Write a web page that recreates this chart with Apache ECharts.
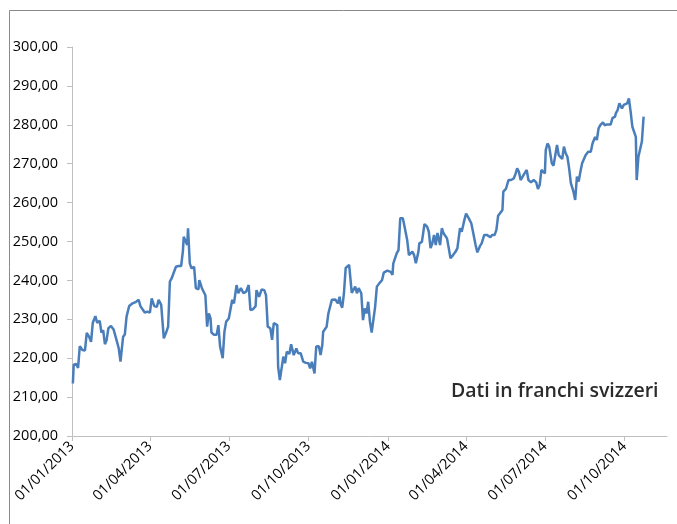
<!DOCTYPE html>
<html>
<head>
<meta charset="utf-8">
<script src="https://cdn.jsdelivr.net/npm/echarts@6/dist/echarts.min.js"></script>
<style>
  html, body { margin: 0; padding: 0; background: #fff; }
  #chart { width: 677px; height: 524px; }
</style>
</head>
<body>
<div id="chart"></div>
<script>
// days counted from 01/01/2013
const days = [
  1, 2, 5, 7, 9, 12, 15, 17, 20, 22, 24, 27, 29, 32, 34, 36, 38, 40, 42, 45,
  48, 50, 52, 54, 56, 59, 61, 63, 66, 70, 74, 77, 79, 82, 84, 87, 90, 92, 95, 98,
  100, 103, 105, 106, 109, 111, 113, 115, 117, 120, 123, 126, 128, 129, 131, 133, 134, 136, 138, 141,
  143, 146, 147, 150, 152, 154, 156, 158, 160, 161, 164, 167, 169, 171, 174, 176, 178, 181, 183, 185,
  187, 190, 192, 195, 198, 201, 204, 206, 209, 212, 213, 216, 219, 222, 224, 226, 229, 231, 233, 237,
  238, 240, 242, 244, 246, 248, 251, 253, 256, 259, 261, 264, 267, 270, 273, 275, 277, 280, 282, 285,
  287, 289, 290, 294, 296, 300, 304, 307, 309, 310, 312, 314, 316, 320, 323, 325, 327, 329, 331, 334,
  336, 338, 340, 342, 344, 346, 348, 350, 352, 355, 358, 360, 364, 368, 370, 371, 375, 377, 379, 382,
  384, 387, 389, 391, 393, 395, 397, 400, 401, 404, 407, 410, 412, 414, 416, 418, 420, 422, 423, 425,
  427, 429, 433, 435, 437, 440, 443, 445, 448, 450, 453, 455, 458, 461, 463, 466, 468, 471, 473, 476,
  479, 481, 483, 485, 488, 490, 492, 494, 497, 498, 501, 504, 507, 510, 512, 514, 516, 518, 520, 522,
  524, 525, 527, 530, 533, 536, 538, 540, 542, 544, 546, 547, 549, 551, 554, 556, 558, 560, 562, 564,
  566, 568, 570, 572, 574, 576, 578, 579, 581, 583, 585, 587, 589, 591, 593, 596, 599, 601, 603, 604,
  606, 608, 610, 613, 615, 618, 622, 624, 627, 628, 630, 632, 634, 635, 637, 639, 641, 643, 645, 647,
  649, 651, 652, 654, 656, 658, 660
];
const prices = [
  213.5, 218.3, 218.5, 217.5, 223.1, 222.1, 222.0, 226.5, 225.4, 224.2, 229.1, 230.8, 229.1, 229.6, 226.6, 227.2, 223.6, 224.7, 227.7, 228.3,
  227.4, 227.1, 224.2, 222.5, 219.1, 225.5, 226.1, 230.7, 233.4, 234.1, 234.5, 235.0, 233.4, 232.4, 231.7, 232.0, 231.7, 235.4, 233.4, 233.2,
  235.0, 233.7, 233.2, 225.1, 226.8, 228.1, 239.7, 240.5, 240.5, 243.5, 243.7, 243.7, 247.4, 251.2, 250.8, 249.1, 253.4, 244.4, 243.1, 243.5,
  238.0, 237.7, 240.1, 238.0, 238.4, 236.2, 228.1, 231.5, 230.2, 226.6, 226.0, 226.0, 228.5, 223.0, 220.0, 226.8, 229.4, 230.2, 232.6, 235.0,
  234.1, 238.8, 236.7, 238.0, 236.7, 237.1, 238.8, 232.4, 232.6, 233.4, 237.5, 235.8, 237.7, 237.5, 236.2, 228.1, 227.7, 224.7, 229.0, 228.5,
  217.8, 214.4, 217.4, 220.4, 218.7, 221.7, 221.1, 223.6, 220.8, 222.5, 221.3, 221.3, 219.1, 218.8, 218.7, 217.4, 219.1, 216.1, 223.0, 223.1,
  220.8, 223.4, 226.8, 228.1, 231.5, 235.0, 235.1, 234.1, 235.8, 234.0, 233.0, 236.7, 243.2, 244.0, 236.8, 236.7, 238.4, 236.7, 238.0, 236.7,
  229.8, 232.8, 231.5, 234.5, 229.4, 226.6, 226.6, 233.2, 238.4, 239.3, 240.1, 242.0, 242.5, 242.2, 241.4, 244.4, 247.0, 247.8, 256.0, 256.0,
  253.8, 250.4, 246.5, 246.1, 247.4, 246.5, 244.4, 247.4, 249.5, 249.9, 254.5, 253.8, 252.5, 248.3, 249.5, 251.7, 249.1, 252.2, 252.5, 249.1,
  253.4, 252.1, 250.8, 248.3, 245.7, 246.5, 247.4, 248.3, 253.4, 252.5, 255.5, 257.2, 256.0, 254.7, 252.5, 249.1, 247.2, 248.8, 249.5, 251.7,
  251.7, 252.1, 251.1, 251.7, 251.7, 253.0, 256.6, 256.8, 258.1, 262.8, 263.5, 265.8, 265.8, 266.2, 267.3, 268.8, 267.9, 265.8, 265.4, 267.3,
  266.9, 268.4, 265.8, 265.2, 265.8, 265.2, 263.5, 264.5, 268.4, 268.6, 267.5, 273.5, 275.2, 274.4, 270.1, 269.5, 269.7, 274.8, 272.2, 272.7,
  271.2, 274.4, 272.7, 271.8, 268.8, 265.0, 264.5, 262.8, 260.7, 266.7, 265.4, 267.9, 270.1, 269.7, 272.2, 273.1, 273.1, 275.2, 275.0, 276.9,
  276.1, 279.1, 279.9, 280.6, 279.9, 280.1, 280.1, 281.7, 282.1, 283.0, 283.8, 285.5, 286.0, 284.2, 285.1, 284.7, 285.5, 286.8, 283.4, 279.5,
  279.1, 276.9, 265.8, 271.8, 272.2, 275.7, 282.1
];
const tickDays = [0, 90, 181, 273, 365, 455, 546, 638];
const tickLabels = ['01/01/2013', '01/04/2013', '01/07/2013', '01/10/2013', '01/01/2014', '01/04/2014', '01/07/2014', '01/10/2014'];
const note = 'Dati in franchi svizzeri';

const chart = echarts.init(document.getElementById('chart'));
const labelFont = { fontFamily: 'Open Sans', fontSize: 14.5, color: '#000' };

const option = {
  animation: false,
  grid: { left: 72, right: 10, top: 47, bottom: 88, containLabel: false },
  xAxis: {
    type: 'value',
    min: 0,
    max: 687,
    splitLine: { show: false },
    axisLine: { lineStyle: { color: '#bfbfbf', width: 1 } },
    axisTick: { show: true, length: 5, lineStyle: { color: '#bfbfbf' }, customValues: tickDays },
    axisLabel: Object.assign({
      rotate: 45,
      margin: 8,
      customValues: tickDays,
      formatter: v => tickLabels[tickDays.indexOf(v)] || ''
    }, labelFont)
  },
  yAxis: {
    type: 'value',
    min: 200,
    max: 300,
    interval: 10,
    splitLine: { show: false },
    axisLine: { show: true, lineStyle: { color: '#bfbfbf', width: 1 } },
    axisTick: { show: true, length: 5, lineStyle: { color: '#bfbfbf' } },
    axisLabel: Object.assign({
      margin: 14,
      formatter: v => v.toFixed(2).replace('.', ',')
    }, labelFont)
  },
  graphic: [
    {
      type: 'rect',
      shape: { x: 9.5, y: 10.5, width: 700, height: 600 },
      style: { fill: 'none', stroke: '#8a8a8a', lineWidth: 1 },
      silent: true
    },
    {
      type: 'text',
      left: 451,
      top: 381,
      style: {
        text: note,
        font: '600 19.5px "Open Sans"',
        fill: '#2b2b2b'
      }
    }
  ],
  series: [
    {
      type: 'line',
      data: days.map((d, i) => [d, prices[i]]),
      showSymbol: false,
      lineStyle: { color: '#4a7ebb', width: 2.5 },
      itemStyle: { color: '#4a7ebb' }
    }
  ]
};
chart.setOption(option);
</script>
</body>
</html>
